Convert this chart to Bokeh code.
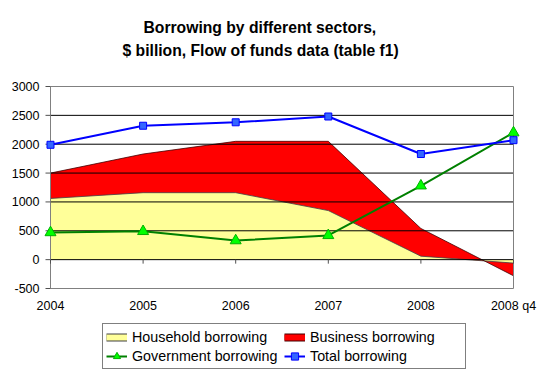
import math
from bokeh.plotting import figure
from bokeh.models import (ColumnDataSource, Range1d, Legend, LegendItem, Title)
from bokeh.transform import stack
from bokeh.core.properties import value
from bokeh.embed import file_html
from bokeh.resources import INLINE

# ---- data ----
categories = ["2004", "2005", "2006", "2007", "2008", "2008 q4"]
household = [1060, 1160, 1160, 850, 60, -60]
business = [440, 670, 890, 1200, 480, -220]
government = [470, 490, 330, 420, 1280, 2200]
total = [1990, 2320, 2380, 2480, 1830, 2070]
y_ticks = [-500, 0, 500, 1000, 1500, 2000, 2500, 3000]

# ---- geometry (pixels) ----
W, H = 547, 374
PLOT_L, PLOT_R, PLOT_T, PLOT_B = 50, 513, 86, 288   # the visible plot-area box
FRAME_T = 72
FONT = "Liberation Sans"

Y_MIN, Y_MAX = y_ticks[0], y_ticks[-1]
n = len(categories)
upp_y = (Y_MAX - Y_MIN) / (PLOT_B - PLOT_T)       # data units per pixel
upp_x = (n - 1) / (PLOT_R - PLOT_L)
y_lo = Y_MIN - (H - PLOT_B) * upp_y
y_hi = Y_MAX + (PLOT_T - FRAME_T) * upp_y
x_lo = 0 - PLOT_L * upp_x
x_hi = (n - 1) + (W - PLOT_R) * upp_x

xs = list(range(n))
src = ColumnDataSource(dict(x=xs, household=household, business=business,
                            government=government, total=total))

p = figure(width=W, height=H, output_backend="svg", toolbar_location=None,
           x_range=Range1d(x_lo, x_hi), y_range=Range1d(y_lo, y_hi),
           x_axis_location=None, y_axis_location=None,
           min_border_left=0, min_border_right=0, min_border_top=FRAME_T, min_border_bottom=0)
p.background_fill_color = "white"
p.border_fill_color = "white"
p.outline_line_color = None
p.xgrid.visible = False
p.ygrid.visible = False

# stacked areas
areas = p.varea_stack(["household", "business"], x="x", color=["#FFFF99", "#FF0000"], source=src)
p.line(x="x", y=stack("household"), source=src, line_color="#404040", line_width=0.8)
p.line(x="x", y=stack("household", "business"), source=src, line_color="#400000", line_width=0.8)

# horizontal gridlines (inside the plot-area box)
grid_y = y_ticks[1:-1]
p.segment(x0=[0] * len(grid_y), y0=grid_y, x1=[n - 1] * len(grid_y), y1=grid_y,
          line_color="black", line_width=1)
# plot-area border (left side doubles as the value axis line)
p.quad(left=[0], right=[n - 1], bottom=[Y_MIN], top=[Y_MAX], fill_color=None,
       line_color="#808080", line_width=1)
# value-axis tick marks and labels
p.segment(x0=[0] * len(y_ticks), y0=y_ticks, x1=[-5 * upp_x] * len(y_ticks), y1=y_ticks,
          line_color="#505050", line_width=1)
p.text(x=[0] * len(y_ticks), y=y_ticks, text=[str(t) for t in y_ticks], x_offset=-11,
       text_align="right", text_baseline="middle", text_font=value(FONT),
       text_font_size="12.5px", text_color="black")
# category tick marks on the zero line
p.segment(x0=xs, y0=[0] * n, x1=xs, y1=[-4 * upp_y] * n, line_color="#505050", line_width=1)
# category labels under the plot area
p.text(x=xs, y=[Y_MIN] * n, text=categories, y_offset=17, text_align="center",
       text_baseline="middle", text_font=value(FONT), text_font_size="12.5px",
       text_color="black")

# lines
gl = p.line(x="x", y="government", source=src, line_color="#008000", line_width=2)
gm = p.scatter(x="x", y="government", source=src, marker="triangle", size=11,
               fill_color="#00FF00", line_color="#00B000")
tl = p.line(x="x", y="total", source=src, line_color="#0000FF", line_width=2)
tm = p.scatter(x="x", y="total", source=src, marker="square", size=7,
               fill_color="#3366FF", line_color="#0000FF")

# legend swatches for the areas (thin bordered bars; no visible data)
nan = [math.nan]
hb = p.line(x=[0], y=nan, line_color="#404040", line_width=8)
hf = p.line(x=[0], y=nan, line_color="#FFFF99", line_width=6)
bb = p.line(x=[0], y=nan, line_color="#400000", line_width=8)
bf = p.line(x=[0], y=nan, line_color="#FF0000", line_width=6)

legend = Legend(items=[
    LegendItem(label="Household borrowing", renderers=[hb, hf]),
    LegendItem(label="Business borrowing", renderers=[bb, bf]),
    LegendItem(label="Government borrowing", renderers=[gl, gm]),
    LegendItem(label="Total borrowing", renderers=[tl, tm]),
], location=(102, 5), orientation="horizontal", ncols=2)
legend.border_line_color = "black"
legend.border_line_width = 1
legend.background_fill_color = "white"
legend.background_fill_alpha = 1
legend.label_text_font = FONT
legend.label_text_font_size = "14.3px"
legend.label_text_color = "black"
legend.glyph_width = 21
legend.glyph_height = 18
legend.label_height = 19
legend.label_width = 152
legend.label_standoff = 5
legend.spacing = 0
legend.padding = 3
legend.margin = 0
p.add_layout(legend, "center")

# title: spacer nearest the plot, then second line, then first line
p.add_layout(Title(text=" ", text_font_size="10px", standoff=1), "above")
p.add_layout(Title(text="$ billion, Flow of funds data (table f1)", align="left", offset=122,
                   text_font=FONT, text_font_size="15.7px", text_font_style="bold",
                   text_color="black", standoff=0, vertical_align="bottom"), "above")
p.add_layout(Title(text="Borrowing by different sectors,", align="left", offset=143,
                   text_font=FONT, text_font_size="15.7px", text_font_style="bold",
                   text_color="black", standoff=7, vertical_align="bottom"), "above")

open("out.html", "w").write(file_html(p, INLINE))
